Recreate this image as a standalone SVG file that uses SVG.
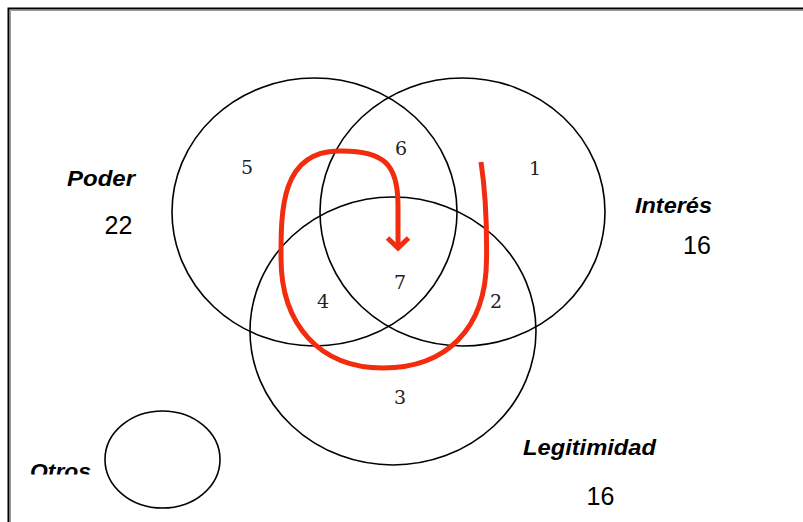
<svg xmlns="http://www.w3.org/2000/svg" width="803" height="522" viewBox="0 0 803 522">
<style>
.set{fill:none;stroke:#000;stroke-width:1.6}
.num{font-family:"DejaVu Serif","Liberation Serif",serif;font-size:19px;fill:#222;text-anchor:middle}
.lbl{font-family:"Liberation Sans",Arial,sans-serif;font-weight:bold;font-style:italic;font-size:21.5px;fill:#000}
.val{font-family:"Liberation Sans",Arial,sans-serif;font-size:25px;fill:#000;text-anchor:middle}
.red{fill:none;stroke:#f22c0e;stroke-width:5;stroke-linecap:butt;stroke-linejoin:miter}
</style>
<defs>
<clipPath id="otrosClip"><rect x="0" y="440" width="120" height="34.5"/></clipPath>
</defs>
<rect x="0" y="0" width="803" height="522" fill="#fff"/>
<g id="frame">
<path d="M8.5 522 V8.5 H803" fill="none" stroke="#000" stroke-width="2"/>
<path d="M10.5 522 V10.5 H803" fill="none" stroke="#999" stroke-width="1"/>
</g>
<g id="poder">
<ellipse class="set" cx="314.5" cy="212" rx="142.5" ry="134"/>
<text class="num" x="247" y="174">5</text>
<text class="lbl" x="67" y="186" textLength="68" lengthAdjust="spacingAndGlyphs">Poder</text>
<text class="val" x="118.5" y="234">22</text>
</g>
<g id="interes">
<ellipse class="set" cx="462.5" cy="212" rx="142.5" ry="134"/>
<text class="num" x="535" y="175">1</text>
<text class="lbl" x="635" y="213" textLength="77" lengthAdjust="spacingAndGlyphs">Interés</text>
<text class="val" x="697" y="254">16</text>
</g>
<g id="legitimidad">
<ellipse class="set" cx="393" cy="331" rx="143" ry="134"/>
<text class="num" x="400" y="404">3</text>
<text class="lbl" x="523" y="455" textLength="133" lengthAdjust="spacingAndGlyphs">Legitimidad</text>
<text class="val" x="600.5" y="505">16</text>
</g>
<g id="regions">
<text class="num" x="401" y="155">6</text>
<text class="num" x="400" y="289">7</text>
<text class="num" x="323" y="308">4</text>
<text class="num" x="496" y="308">2</text>
</g>
<g id="otros">
<ellipse class="set" cx="162.5" cy="459.5" rx="57.5" ry="48.5"/>
<text class="lbl" x="30" y="478.5" textLength="61" lengthAdjust="spacingAndGlyphs" clip-path="url(#otrosClip)">Otros</text>
</g>
<g id="connectors">
<path class="red" d="M481 162 C486 195 487 225 486.5 260 C486 330 445 368 383 368 C320 368 281 325 281 258 C281 210 281 152 338 151 C385 150 398 165 398 205 L398 245"/>
<path class="red" d="M387.5 238 L398 248 L408.5 238"/>
</g>
</svg>
